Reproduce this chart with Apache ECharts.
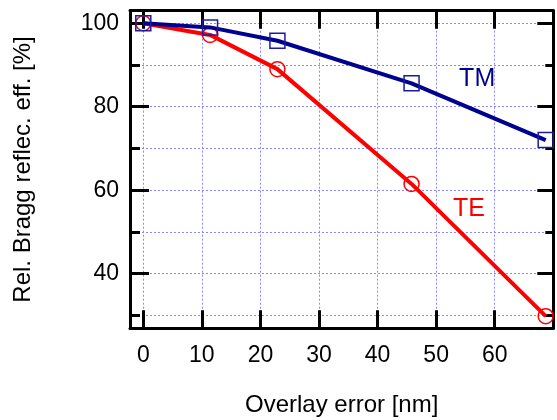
<!DOCTYPE html>
<html><head><meta charset="utf-8">
<script src="https://cdn.jsdelivr.net/npm/echarts@6/dist/echarts.min.js"></script>
<style>html,body{margin:0;padding:0;background:#fff}#c{width:557px;height:420px}</style>
</head><body><div id="c"></div>
<script>
// ---- data ----
const overlayNm = [0, 11.4, 22.9, 45.8, 68.7];
const teValues  = [100, 97.2, 89.0, 61.5, 29.8];
const tmValues  = [100, 99.0, 95.8, 85.6, 72.0];
const xTickLabels = [0, 10, 20, 30, 40, 50, 60];
const yTickLabels = [40, 60, 80, 100];
const seriesNames = ['TE', 'TM'];
const xTitle = 'Overlay error [nm]';
const yTitle = 'Rel. Bragg reflec. eff. [%]';
// annotation anchor points (data space)
const tmLabelAt = [57.0, 86.5];
const teLabelAt = [55.6, 55.5];

const FONT = 'Liberation Sans, Arial, sans-serif';
const XMIN = -2.27, XMAX = 70, YMIN = 26.9, YMAX = 103;
const gridStyle = { color: '#8888ff', type: [2, 2], width: 1 };
const black3 = { color: '#000', width: 3 };

function xFmt(v) {
  const r = Math.round(v);
  return (Math.abs(v - r) < 1e-6 && xTickLabels.indexOf(r) >= 0) ? String(r) : '';
}
function yFmt(v) {
  const r = Math.round(v);
  return (Math.abs(v - r) < 1e-6 && yTickLabels.indexOf(r) >= 0) ? String(r) : '';
}

const chart = echarts.init(document.getElementById('c'), null, { renderer: 'canvas' });
const xCommon = { type: 'value', min: XMIN, max: XMAX, minInterval: 10, maxInterval: 10 };
const yCommon = { type: 'value', min: YMIN, max: YMAX, minInterval: 20, maxInterval: 20 };

chart.setOption({
  animation: false,
  backgroundColor: '#fff',
  textStyle: { fontFamily: FONT },
  grid: { left: 130, right: 3.7, top: 10.7, bottom: 91.7, containLabel: false, outerBoundsMode: 'none' },
  xAxis: [
    Object.assign({}, xCommon, {
      position: 'bottom',
      axisLine: { onZero: false, lineStyle: black3 },
      axisTick: { inside: true, length: 18, lineStyle: black3 },
      axisLabel: { margin: 16, fontSize: 23, color: '#000', fontFamily: FONT, formatter: xFmt },
      splitLine: { show: true, lineStyle: gridStyle },
      name: xTitle, nameLocation: 'middle', nameGap: 65,
      nameTextStyle: { fontSize: 24, color: '#000', fontFamily: FONT }
    }),
    Object.assign({}, xCommon, {
      position: 'top',
      axisLine: { onZero: false, lineStyle: black3 },
      axisTick: { inside: true, length: 18, lineStyle: black3 },
      axisLabel: { show: false },
      splitLine: { show: false }
    })
  ],
  yAxis: [
    Object.assign({}, yCommon, {
      position: 'left',
      axisLine: { onZero: false, lineStyle: black3 },
      axisTick: { inside: true, length: 19, lineStyle: black3 },
      minorTick: { show: true, splitNumber: 2, length: 10, lineStyle: black3 },
      minorSplitLine: { show: true, lineStyle: gridStyle },
      axisLabel: { margin: 11, fontSize: 23, color: '#000', fontFamily: FONT, formatter: yFmt },
      splitLine: { show: true, lineStyle: gridStyle },
      name: yTitle, nameLocation: 'middle', nameGap: 95,
      nameTextStyle: { fontSize: 24, color: '#000', fontFamily: FONT }
    }),
    Object.assign({}, yCommon, {
      position: 'right',
      axisLine: { onZero: false, lineStyle: black3 },
      axisTick: { inside: true, length: 16, lineStyle: black3 },
      minorTick: { show: true, splitNumber: 2, length: 8, lineStyle: black3 },
      axisLabel: { show: false },
      splitLine: { show: false }
    })
  ],
  series: [
    {
      name: seriesNames[0], type: 'line', xAxisIndex: 0, yAxisIndex: 0,
      data: overlayNm.map((x, i) => [x, teValues[i]]),
      symbol: 'circle', symbolSize: 15,
      lineStyle: { color: '#ff0000', width: 4 },
      itemStyle: { color: 'rgba(255,255,255,0)', borderColor: '#ff0000', borderWidth: 1.5 },
      markPoint: {
        symbol: 'circle', symbolSize: 1, itemStyle: { color: 'rgba(0,0,0,0)' },
        label: { show: true, position: 'inside', formatter: seriesNames[0], fontSize: 25, color: '#ff0000', fontFamily: FONT },
        data: [{ coord: teLabelAt }]
      },
      z: 3
    },
    {
      name: seriesNames[1], type: 'line', xAxisIndex: 0, yAxisIndex: 0,
      data: overlayNm.map((x, i) => [x, tmValues[i]]),
      symbol: 'rect', symbolSize: 15,
      lineStyle: { color: '#000090', width: 4 },
      itemStyle: { color: 'rgba(255,255,255,0)', borderColor: '#1c1ca0', borderWidth: 1.5 },
      markPoint: {
        symbol: 'circle', symbolSize: 1, itemStyle: { color: 'rgba(0,0,0,0)' },
        label: { show: true, position: 'inside', formatter: seriesNames[1], fontSize: 25, color: '#000090', fontFamily: FONT },
        data: [{ coord: tmLabelAt }]
      },
      z: 4
    }
  ]
});
</script>
</body></html>
